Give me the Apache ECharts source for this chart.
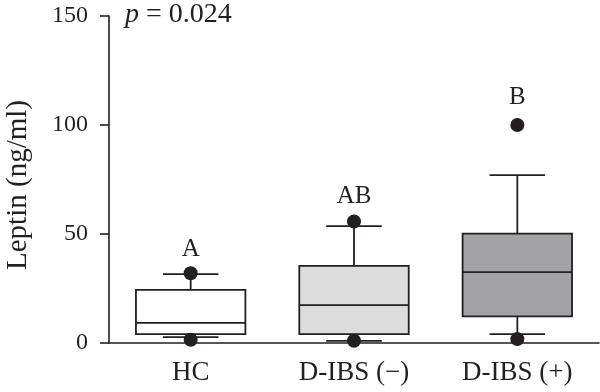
<!DOCTYPE html>
<html>
<head>
<meta charset="utf-8">
<script src="https://cdn.jsdelivr.net/npm/echarts@6/dist/echarts.min.js"></script>
<style>html,body{margin:0;padding:0;background:#fff}#c{width:600px;height:392px}</style>
</head>
<body>
<div id="c"></div>
<script>
const categories = ['HC', 'D-IBS (\u2212)', 'D-IBS (+)'];
const whiskerLow = [2.7, 1.0, 4.1];
const q1 = [4.1, 4.1, 12.2];
const median = [9.2, 17.4, 32.5];
const q3 = [24.4, 35.4, 50.2];
const whiskerHigh = [31.6, 53.6, 77];
const outlierCat = [0, 0, 1, 1, 2, 2];
const outlierVal = [32, 1.5, 55.7, 1.0, 100, 1.8];
const letters = ['A', 'AB', 'B'];
const letterVal = [43, 67.2, 112.6];
const boxFill = ['#ffffff', '#dcdcdc', '#a3a3a5'];
const yTicks = [0, 50, 100, 150];

const ink = '#231f20';
const font = '"Liberation Serif", "Times New Roman", serif';

const boxData = categories.map((c, i) => [i, whiskerLow[i], q1[i], median[i], q3[i], whiskerHigh[i]]);

const chart = echarts.init(document.getElementById('c'), null, {renderer: 'canvas'});
chart.setOption({
  animation: false,
  grid: {left: 109, right: 1, top: 16, bottom: 49, containLabel: false, outerBoundsMode: 'none'},
  xAxis: {
    type: 'category',
    data: categories,
    axisLine: {lineStyle: {color: ink, width: 1.6}},
    axisTick: {alignWithLabel: true, length: 10, lineStyle: {color: ink, width: 1.6}},
    axisLabel: {color: ink, fontFamily: font, fontSize: 27, margin: 16}
  },
  yAxis: {
    type: 'value',
    min: 0, max: 150, interval: 50,
    splitLine: {show: false},
    axisLine: {show: true, lineStyle: {color: ink, width: 1.6}},
    axisTick: {show: true, length: 9, lineStyle: {color: ink, width: 1.6}},
    axisLabel: {color: ink, fontFamily: font, fontSize: 24, margin: 21,
      formatter: v => yTicks.includes(v) ? String(v) : ''}
  },
  graphic: [{
    type: 'text', left: 125, top: 1,
    style: {
      text: '{i|p} = 0.024',
      rich: {i: {fontStyle: 'italic', fontFamily: font, fontSize: 28, fill: ink}},
      fontFamily: font, fontSize: 28, fill: ink
    }
  }, {
    type: 'text', x: 18, y: 185, rotation: Math.PI / 2,
    style: {
      text: 'Leptin (ng/ml)', fontFamily: font, fontSize: 29, fill: ink,
      align: 'center', verticalAlign: 'middle'
    }
  }],
  series: [
    {
      type: 'custom',
      data: boxData,
      z: 2,
      renderItem: function (params, api) {
        const i = api.value(0);
        const band = api.size([1, 0])[0];
        const half = band * 0.335;
        const capHalf = band * 0.17;
        const pLow = api.coord([i, api.value(1)]);
        const pQ1 = api.coord([i, api.value(2)]);
        const pMed = api.coord([i, api.value(3)]);
        const pQ3 = api.coord([i, api.value(4)]);
        const pHigh = api.coord([i, api.value(5)]);
        const x = pQ1[0];
        const ls = {stroke: ink, lineWidth: 1.8, fill: null};
        return {
          type: 'group',
          children: [
            {type: 'line', shape: {x1: x, y1: pQ3[1], x2: x, y2: pHigh[1]}, style: ls},
            {type: 'line', shape: {x1: x - capHalf, y1: pHigh[1], x2: x + capHalf, y2: pHigh[1]}, style: ls},
            {type: 'line', shape: {x1: x, y1: pQ1[1], x2: x, y2: pLow[1]}, style: ls},
            {type: 'line', shape: {x1: x - capHalf, y1: pLow[1], x2: x + capHalf, y2: pLow[1]}, style: ls},
            {type: 'rect', shape: {x: x - half, y: pQ3[1], width: half * 2, height: pQ1[1] - pQ3[1]},
              style: {fill: boxFill[i], stroke: ink, lineWidth: 1.8}},
            {type: 'line', shape: {x1: x - half, y1: pMed[1], x2: x + half, y2: pMed[1]}, style: ls}
          ]
        };
      }
    },
    {
      type: 'scatter',
      data: outlierCat.map((c, k) => [c, outlierVal[k]]),
      symbol: 'circle',
      symbolSize: 14,
      itemStyle: {color: ink, opacity: 1},
      z: 3
    },
    {
      type: 'scatter',
      data: letters.map((t, k) => [k, letterVal[k]]),
      symbolSize: 0,
      itemStyle: {opacity: 1},
      label: {
        show: true, position: 'inside',
        formatter: p => letters[p.dataIndex],
        color: ink, fontFamily: font, fontSize: 25
      },
      z: 4
    }
  ]
});
</script>
</body>
</html>
